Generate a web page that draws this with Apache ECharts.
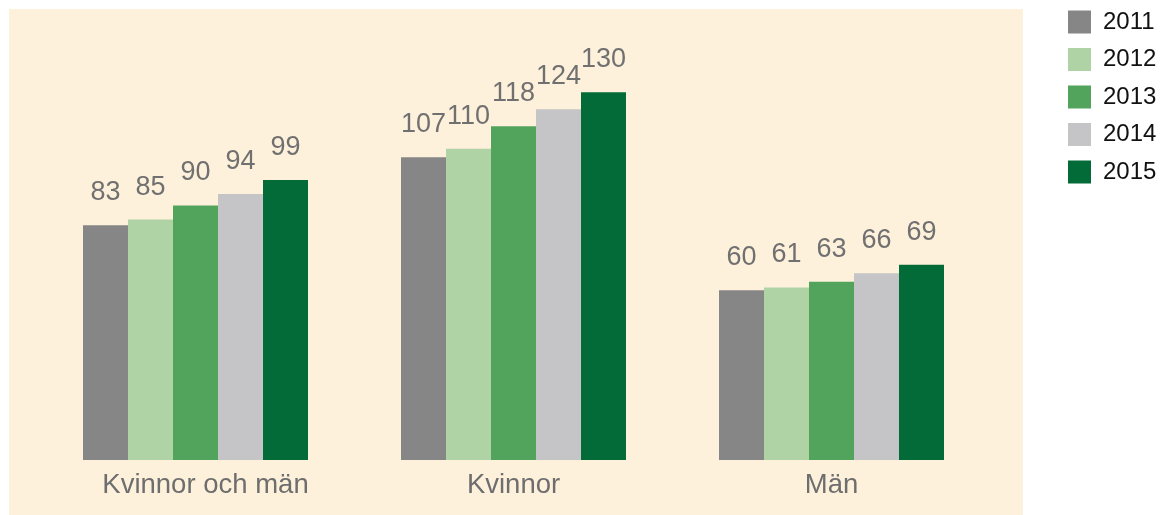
<!DOCTYPE html>
<html>
<head>
<meta charset="utf-8">
<script src="https://cdn.jsdelivr.net/npm/echarts@6/dist/echarts.min.js"></script>
<style>
  html, body { margin: 0; padding: 0; background: #fff; }
  #main { width: 1164px; height: 515px; }
</style>
</head>
<body>
<div id="main"></div>
<script>
// kategorier och år
var categories = ['Kvinnor och män', 'Kvinnor', 'Män'];
var years = ['2011', '2012', '2013', '2014', '2015'];
// värden per år (ordning som categories)
var v2011 = [83, 107, 60];
var v2012 = [85, 110, 61];
var v2013 = [90, 118, 63];
var v2014 = [94, 124, 66];
var v2015 = [99, 130, 69];
var colors = ['#868687', '#b0d3a6', '#52a35c', '#c5c5c7', '#036b37'];

var values = [v2011, v2012, v2013, v2014, v2015];
var font = '"Liberation Sans", Arial, sans-serif';

var chart = echarts.init(document.getElementById('main'));
var option = {
  animation: false,
  textStyle: { fontFamily: font },
  graphic: [{
    type: 'rect',
    z: -10,
    silent: true,
    shape: { x: 9, y: 9, width: 1014, height: 506 },
    style: { fill: '#fef1dc' }
  }],
  legend: {
    orient: 'vertical',
    left: 1068,
    top: 10,
    padding: 0,
    itemWidth: 23,
    itemHeight: 23,
    itemGap: 13.5,
    icon: 'rect',
    textStyle: { fontSize: 24, color: '#111', fontFamily: font, padding: [0, 0, 0, 7] },
    data: years
  },
  grid: { left: 36.5, right: 1164 - 990.5, top: 64, bottom: 55 },
  xAxis: {
    type: 'category',
    data: categories,
    axisLine: { show: false },
    axisTick: { show: false },
    axisLabel: {
      margin: 11,
      // första etiketten sitter lite till höger i originalet
      formatter: function (val, idx) {
        return idx === 0 ? '{a|' + val + '}' : '{b|' + val + '}';
      },
      rich: {
        a: { fontSize: 27.5, color: '#6e6e6e', fontFamily: font, padding: [0, 0, 0, 20] },
        b: { fontSize: 27.5, color: '#6e6e6e', fontFamily: font }
      }
    }
  },
  yAxis: {
    type: 'value',
    min: 0,
    max: 140,
    show: false,
    splitLine: { show: false }
  },
  series: years.map(function (y, i) {
    return {
      name: y,
      type: 'bar',
      data: values[i],
      barWidth: 45,
      barGap: '0%',
      itemStyle: { color: colors[i] },
      label: {
        show: true,
        position: 'top',
        distance: 19,
        fontSize: 27,
        color: '#707070',
        fontFamily: font
      }
    };
  })
};
chart.setOption(option);
</script>
</body>
</html>
